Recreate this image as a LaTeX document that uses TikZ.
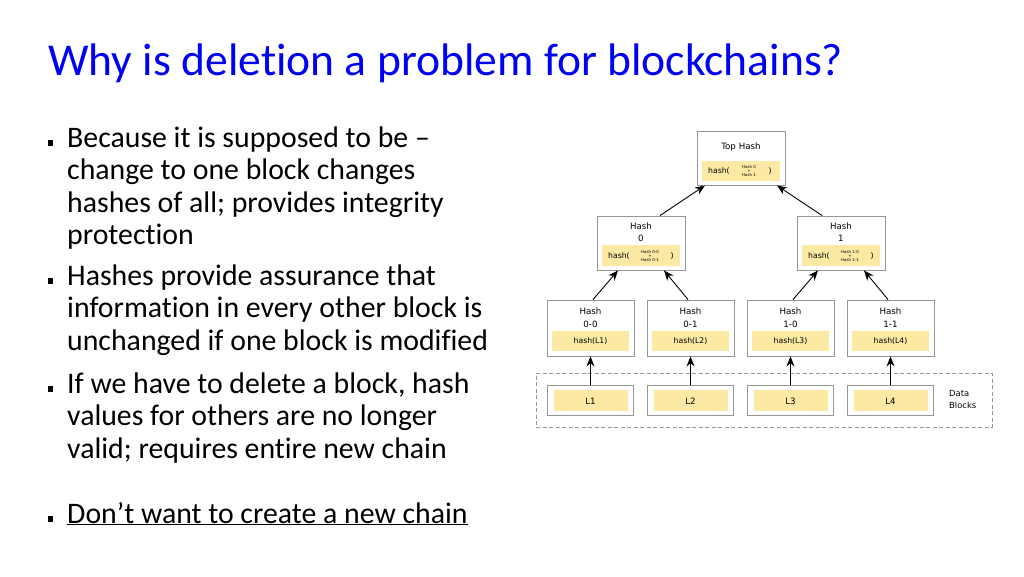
\documentclass[tikz,border=0pt]{standalone}
\usepackage{fontspec}
\setmainfont{Carlito}[Ligatures=NoCommon]
\newfontfamily\dv{DejaVu Sans}
\usetikzlibrary{arrows.meta,shadows}
\definecolor{titleblue}{RGB}{0,0,245}
\definecolor{hy}{RGB}{252,233,163}
\definecolor{bx}{RGB}{150,150,150}
\begin{document}
\begin{tikzpicture}[x=1pt,y=-1pt,
  body/.style={anchor=base west, inner sep=0, font=\fontsize{29.8}{34}\selectfont},
  bul/.style={fill=black, minimum width=5pt, minimum height=5.5pt, inner sep=0},
  hbox/.style={draw=bx, line width=0.9pt, fill=white, inner sep=0,
     drop shadow={shadow xshift=1pt, shadow yshift=-1pt, fill=black!22, opacity=1}},
  ybox/.style={fill=hy, inner sep=0},
  dt/.style={inner sep=0, font=\dv\fontsize{8.7}{10}\selectfont},
  st/.style={inner sep=0, font=\dv\fontsize{7.7}{9}\selectfont},
  tt/.style={inner sep=0, font=\dv\fontsize{4}{5}\selectfont, align=center},
  arr/.style={-{Stealth[length=10pt,width=8pt]}, line width=0.9pt, black}]
\useasboundingbox (0,0) rectangle (1024,576);

% title
\node[anchor=base west, inner sep=0, text=titleblue, font=\fontsize{45.6}{52}\selectfont] (title) at (48,75) {Why is deletion a problem for blockchains?};

% bullets
\node[bul] (q1) at (50.5,143) {};
\node[body] (b1a) at (67,147) {Because it is supposed to be –};
\node[body] (b1b) at (67,179.5) {change to one block changes};
\node[body] (b1c) at (67,212) {hashes of all; provides integrity};
\node[body] (b1d) at (67,244.5) {protection};
\node[bul] (q2) at (50.5,281) {};
\node[body] (b2a) at (67,285) {Hashes provide assurance that};
\node[body] (b2b) at (67,317.5) {information in every other block is};
\node[body] (b2c) at (67,350) {unchanged if one block is modified};
\node[bul] (q3) at (50.5,389) {};
\node[body] (b3a) at (67,393) {If we have to delete a block, hash};
\node[body] (b3b) at (67,425.5) {values for others are no longer};
\node[body] (b3c) at (67,458) {valid; requires entire new chain};
\node[bul] (q4) at (50.5,519) {};
\node[body] (b4a) at (67,523) {\underline{Don’t want to create a new chain}};

% top hash
\node[hbox, minimum width=88pt, minimum height=54pt] (top) at (741,158) {};
\node[dt] (toplab) at (741,147) {Top Hash};
\node[ybox, minimum width=78pt, minimum height=20pt] (topy) at (741,171) {};
\node[st, anchor=west] (toph) at (708,171) {hash(};
\node[tt] (topt) at (749,171) {Hash 0\\[-1.2pt]+\\[-1.2pt]Hash 1};
\node[st] (topc) at (770,171) {)};

% level 1
\foreach \n/\x/\a/\b/\c in {h0/641/0/0-0/0-1, h1/841/1/1-0/1-1}{
  \node[hbox, minimum width=88pt, minimum height=54pt] (\n) at (\x,243) {};
  \node[dt] (\n l) at (\x,226) {Hash};
  \node[dt] (\n n) at (\x,238.5) {\a};
  \node[ybox, minimum width=78pt, minimum height=21pt] (\n y) at (\x,255.5) {};
  \node[st, anchor=west] (\n h) at (\x-33,256) {hash(};
  \node[tt] (\n t) at (\x+9,256) {Hash \b\\[-1.2pt]+\\[-1.2pt]Hash \c};
  \node[st] (\n c) at (\x+31,256) {)};
}

% level 2 and data blocks
\node[draw=bx, dashed, dash pattern=on 4pt off 2.5pt, line width=1pt, minimum width=456pt, minimum height=54pt, inner sep=0] (data) at (764,400) {};
\node[dt, anchor=west, align=left, font=\dv\fontsize{8.4}{12}\selectfont] (datalab) at (949,399) {Data\\Blocks};
\foreach \n/\x/\k/\lab in {l00/590.5/0-0/1, l01/690.5/0-1/2, l10/790.5/1-0/3, l11/890.5/1-1/4}{
  \node[hbox, minimum width=87pt, minimum height=56pt] (\n) at (\x,328) {};
  \node[dt] (\n a) at (\x,311) {Hash};
  \node[dt] (\n b) at (\x,324) {\k};
  \node[ybox, minimum width=77pt, minimum height=20pt] (\n y) at (\x,341) {};
  \node[st] (\n h) at (\x,341.5) {hash(L\lab)};
  \node[draw=bx, line width=0.9pt, fill=white, inner sep=0, minimum width=86pt, minimum height=30pt] (L\lab) at (\x,400) {};
  \node[ybox, minimum width=74pt, minimum height=21pt] (L\lab y) at (\x,400.5) {};
  \node[dt] (L\lab t) at (\x,401) {L\lab};
  \draw[arr] (L\lab.north) -- (\n.south);
}

% arrows
\draw[arr] ([xshift=19pt]h0.north) -- ([xshift=-36pt]top.south);
\draw[arr] ([xshift=-19pt]h1.north) -- ([xshift=36pt]top.south);
\draw[arr] ([xshift=2.5pt]l00.north) -- ([xshift=-23pt]h0.south);
\draw[arr] ([xshift=-2.5pt]l01.north) -- ([xshift=23pt]h0.south);
\draw[arr] ([xshift=2.5pt]l10.north) -- ([xshift=-23pt]h1.south);
\draw[arr] ([xshift=-2.5pt]l11.north) -- ([xshift=23pt]h1.south);
\end{tikzpicture}
\end{document}
